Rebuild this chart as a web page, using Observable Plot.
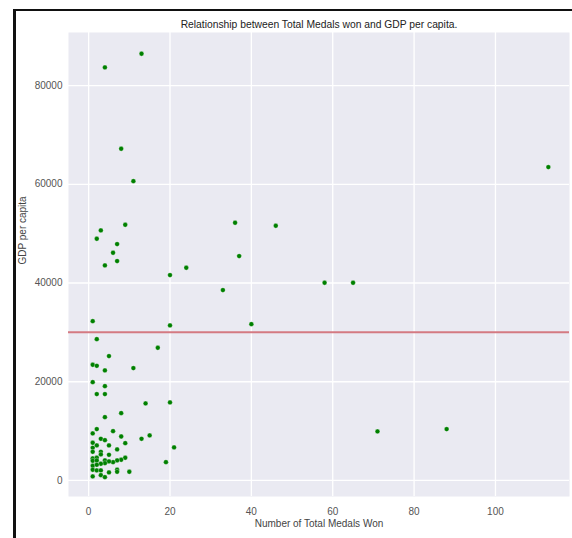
<!DOCTYPE html>
<html>
<head>
<meta charset="utf-8">
<script src="https://cdn.jsdelivr.net/npm/d3@7"></script>
<script src="https://cdn.jsdelivr.net/npm/@observablehq/plot@0.6"></script>
<style>
  html, body { margin: 0; padding: 0; background: #fff; }
  #wrap { position: relative; width: 572px; height: 538px; overflow: hidden; }
  #frameBox { position: absolute; left: 13px; top: 9px; width: 556px; height: 540px;
    border-left: 3px solid #111; border-top: 2px solid #111; border-right: 1px solid #bbb; pointer-events: none; }
  #chart { position: absolute; left: 0; top: 0; }
</style>
</head>
<body>
<div id="wrap"><div id="chart"></div><div id="frameBox"></div></div>
<script>
const medals = [13,4,8,11,113,36,46,9,3,2,7,6,37,7,4,24,20,58,65,33,1,40,20,2,17,5,1,2,11,4,71,88,
  1,4,2,4,14,20,8,4,2,1,6,3,4,8,15,13,9,1,2,5,21,1,7,1,3,3,5,1,2,1,2,4,9,8,7,6,5,4,19,3,1,2,1,2,3,7,7,5,10,1,3,4];
const gdp = [86450,83670,67200,60640,63480,52210,51600,51800,50650,48970,47880,46130,45450,44440,43560,43090,41600,40050,40050,38560,32270,31670,31400,28630,26880,25190,23440,23230,22760,22290,9930,10400,
  19920,19110,17490,17490,15600,15800,13640,12830,10400,9520,9990,8440,8170,8910,9120,8440,7560,7640,7090,7090,6690,6620,6280,5810,5810,5270,5200,4460,4600,3990,4050,4050,4600,4190,4050,3710,3850,3510,3710,3380,2980,3180,2170,2030,2030,2170,1760,1620,1760,810,1080,670];
const meanGdp = [30000];
const xTicks = [0,20,40,60,80,100];
const yTicks = [0,20000,40000,60000,80000];
const titleText = "Relationship between Total Medals won and GDP per capita.";
const xLabel = "Number of Total Medals Won";
const yLabel = "GDP per capita";

const data = medals.map((m, i) => ({medals: m, gdp: gdp[i]}));

const chart = Plot.plot({
  width: 572,
  height: 538,
  marginLeft: 68,
  marginRight: 3,
  marginTop: 32,
  marginBottom: 42,
  style: {fontFamily: "'Liberation Sans', Arial, sans-serif", fontSize: "10px", background: "transparent"},
  x: {domain: [-4.95, 118.2]},
  y: {domain: [-3250, 90750]},
  marks: [
    Plot.frame({fill: "#eaeaf2", stroke: null}),
    Plot.gridX(xTicks, {stroke: "#fff", strokeOpacity: 1, strokeWidth: 1.3}),
    Plot.gridY(yTicks, {stroke: "#fff", strokeOpacity: 1, strokeWidth: 1.3}),
    Plot.axisX(xTicks, {tickSize: 0, tickPadding: 11, label: null, fill: "#555", tickFormat: d => String(d)}),
    Plot.axisY(yTicks, {tickSize: 0, tickPadding: 6, label: null, fill: "#555", tickFormat: d => String(d)}),
    Plot.ruleY(meanGdp, {stroke: "#d47a82", strokeWidth: 2}),
    Plot.dot(data, {x: "medals", y: "gdp", r: 2.4, fill: "#008000", stroke: "#fff", strokeWidth: 0.5, strokeOpacity: 0.6}),
    Plot.text([titleText], {frameAnchor: "top", dy: -12, fill: "#222", fontSize: 10.3}),
    Plot.text([xLabel], {frameAnchor: "bottom", dy: 30, fill: "#444", fontSize: 10}),
    Plot.text([yLabel], {frameAnchor: "left", dx: -46, rotate: -90, fill: "#444", fontSize: 10})
  ]
});
document.getElementById("chart").appendChild(chart);
</script>
</body>
</html>
